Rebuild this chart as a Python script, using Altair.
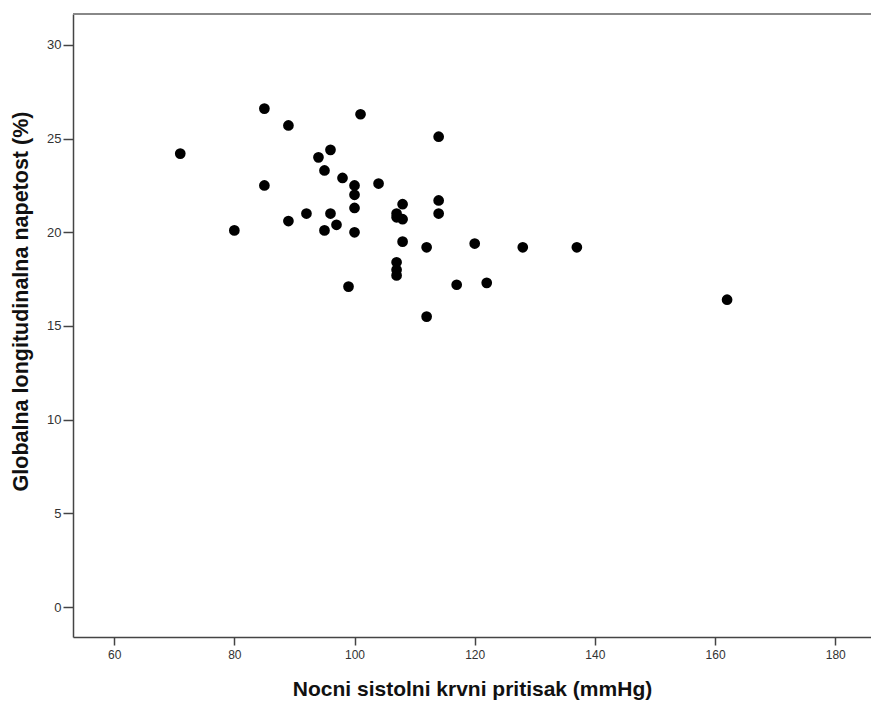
import altair as alt
import pandas as pd

# Nocni sistolni krvni pritisak (mmHg)
x_vals = [71, 80, 85, 85, 89, 89, 92, 94, 95, 95,
          96, 96, 97, 98, 99, 100, 100, 100, 100, 101,
          104, 107, 107, 107, 107, 107, 108, 108, 108, 112,
          112, 114, 114, 114, 117, 120, 122, 128, 137, 162]
# Globalna longitudinalna napetost (%)
y_vals = [24.2, 20.1, 26.6, 22.5, 25.7, 20.6, 21.0, 24.0, 23.3, 20.1,
          24.4, 21.0, 20.4, 22.9, 17.1, 22.5, 22.0, 21.3, 20.0, 26.3,
          22.6, 21.0, 20.8, 18.4, 18.0, 17.7, 21.5, 20.7, 19.5, 19.2,
          15.5, 25.1, 21.7, 21.0, 17.2, 19.4, 17.3, 19.2, 19.2, 16.4]

x_ticks = [60, 80, 100, 120, 140, 160, 180]
y_ticks = [0, 5, 10, 15, 20, 25, 30]

df = pd.DataFrame({"x": x_vals, "y": y_vals})

W, H = 798, 623
FONT = "Liberation Sans"

points = alt.Chart(df).mark_circle(size=115, color="black", opacity=1).encode(
    x=alt.X("x:Q",
            scale=alt.Scale(domain=[53.15, 185.95], nice=False, zero=False),
            axis=alt.Axis(values=x_ticks, title="Nocni sistolni krvni pritisak (mmHg)",
                          grid=False, tickSize=8, tickColor="#444", tickWidth=1.5,
                          domainColor="#444", domainWidth=1.5,
                          labelFont=FONT, labelFontSize=12, labelColor="#333",
                          labelPadding=4,
                          titleFont=FONT, titleFontSize=21, titleFontWeight="bold",
                          titleColor="#111", titlePadding=18)),
    y=alt.Y("y:Q",
            scale=alt.Scale(domain=[-1.6, 31.65], nice=False, zero=False),
            axis=alt.Axis(values=y_ticks, title="Globalna longitudinalna napetost (%)",
                          grid=False, tickSize=10, tickColor="#444", tickWidth=1.5,
                          domainColor="#444", domainWidth=1.5,
                          labelFont=FONT, labelFontSize=13, labelColor="#333",
                          labelPadding=2,
                          titleFont=FONT, titleFontSize=21.5, titleFontWeight="bold",
                          titleColor="#111", titlePadding=14, titleY=287)),
)

top = alt.Chart(pd.DataFrame({"a": [0]})).mark_rule(color="#888", strokeWidth=2).encode(
    x=alt.value(0), x2=alt.value(W), y=alt.value(0)
)

chart = alt.layer(points, top).properties(
    width=W, height=H,
    autosize=alt.AutoSizeParams(type="none"),
    padding={"left": 73, "top": 14, "right": 0, "bottom": 67},
    background="white",
).configure_view(stroke=None)

chart.save("out.html", embed_options={"renderer": "svg", "actions": False})
